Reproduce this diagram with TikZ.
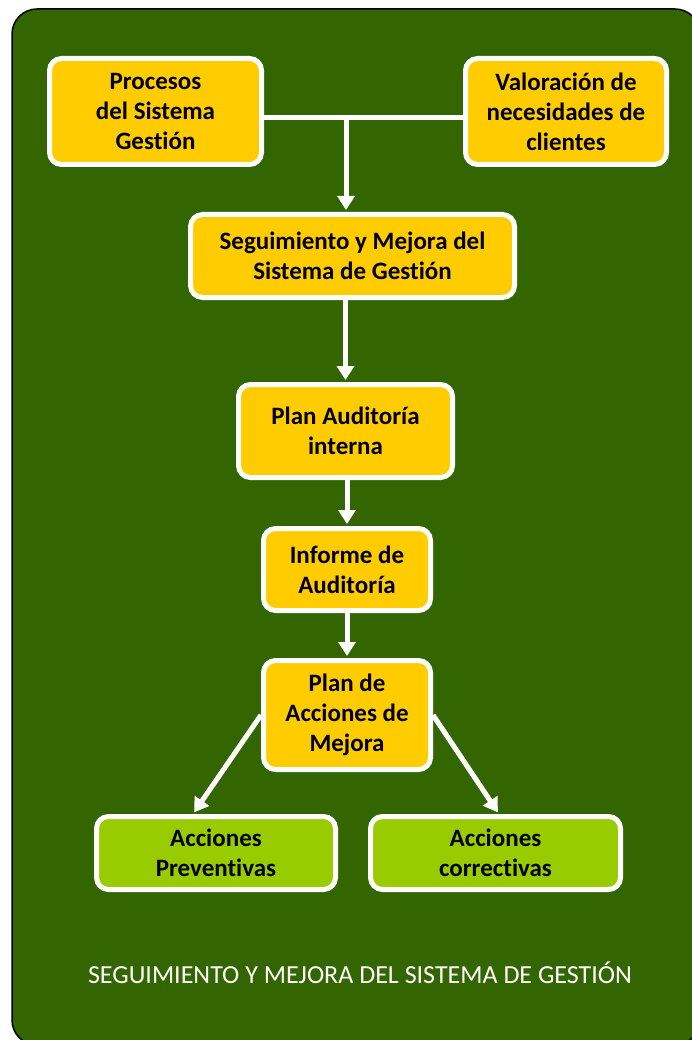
\documentclass[tikz,border=0pt]{standalone}
\usepackage{fontspec}
\setmainfont[Ligatures=NoCommon]{Carlito}
\usetikzlibrary{arrows.meta}
\definecolor{bggreen}{RGB}{51,102,0}
\definecolor{boxyellow}{RGB}{255,204,0}
\definecolor{boxlime}{RGB}{153,204,0}
\begin{document}
\begin{tikzpicture}[x=1pt,y=-1pt,
  box/.style={draw=white,line width=5pt,rounded corners=12pt,align=center,
    font=\fontsize{25}{30}\selectfont\bfseries,text=black,inner sep=0pt},
  ybox/.style={box,fill=boxyellow},
  gbox/.style={box,fill=boxlime},
  conn/.style={draw=white,line width=5pt},
  arr/.style={conn,-{Triangle[width=17pt,length=14pt]},shorten >=2pt}]
\useasboundingbox (0,0) rectangle (691,1040);
\fill[white] (0,0) rectangle (691,1040);
\draw[fill=bggreen,draw=black,line width=1.5pt,rounded corners=25pt] (12,9) rectangle (700,1045);

\node[ybox,minimum width=212pt,minimum height=106pt] (proc) at (155.5,111.5) {Procesos\\del Sistema\\Gestión};
\node[ybox,minimum width=201pt,minimum height=106pt] (val) at (566,111.5) {Valoración de\\necesidades de\\clientes};
\node[ybox,minimum width=324pt,minimum height=83pt] (seg) at (352.5,256) {Seguimiento y Mejora del\\Sistema de Gestión};
\node[ybox,minimum width=214pt,minimum height=93pt] (plan) at (345.5,431) {Plan Auditoría\\interna};
\node[ybox,minimum width=167pt,minimum height=82pt] (inf) at (347,569.5) {Informe de\\Auditoría};
\node[ybox,minimum width=167pt,minimum height=109pt] (acc) at (347,715) {Plan de\\Acciones de\\Mejora};
\node[gbox,minimum width=239pt,minimum height=73pt] (prev) at (216,853) {Acciones\\Preventivas};
\node[gbox,minimum width=250pt,minimum height=73pt] (corr) at (495.5,853) {Acciones\\correctivas};

\coordinate (j) at (346,118);
\draw[conn] (proc.east|-j) -- (val.west|-j);
\draw[arr] (j) -- (seg.north-|j);
\draw[arr] (seg.south-|plan.north) -- (plan.north);
\draw[arr] (plan.south-|inf.north) -- (inf.north);
\draw[arr] (inf.south) -- (acc.north);
\draw[arr] (acc.west) -- ([xshift=-23pt]prev.north);
\draw[arr] (acc.east) -- ([xshift=3.5pt]corr.north);

\node[text=white,font=\fontsize{26}{30}\selectfont,inner sep=0pt,anchor=base] (title) at (360,983) {SEGUIMIENTO Y MEJORA DEL SISTEMA DE GESTIÓN};
\end{tikzpicture}
\end{document}
